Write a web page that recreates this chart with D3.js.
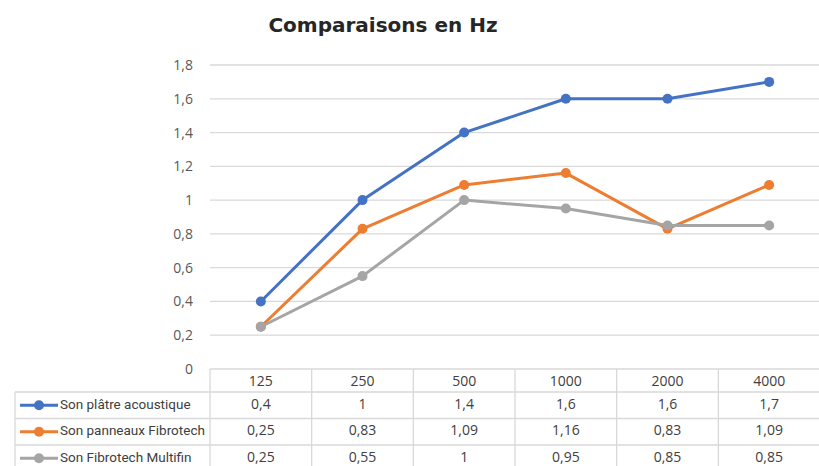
<!DOCTYPE html>
<html>
<head>
<meta charset="utf-8">
<script src="https://cdn.jsdelivr.net/npm/d3@7"></script>
<style>
  body { margin: 0; background: #fff; }
  svg text { font-family: "Open Sans", "DejaVu Sans", sans-serif; }
</style>
</head>
<body>
<div id="chart"></div>
<script>
const categories = ["125", "250", "500", "1000", "2000", "4000"];
const seriesNames = ["Son plâtre acoustique", "Son panneaux Fibrotech", "Son Fibrotech Multifin"];
const platre = [0.4, 1, 1.4, 1.6, 1.6, 1.7];
const panneaux = [0.25, 0.83, 1.09, 1.16, 0.83, 1.09];
const multifin = [0.25, 0.55, 1, 0.95, 0.85, 0.85];
const yTicks = [0, 0.2, 0.4, 0.6, 0.8, 1, 1.2, 1.4, 1.6, 1.8];
const colors = ["#4472c4", "#ed7d31", "#a5a5a5"];

const W = 819, H = 466;
const plotLeft = 210, plotRight = 820, plotTop = 65, plotBottom = 369;
const fr = d3.format(",.2~f");
const fmt = v => fr(v).replace(".", ",");

const series = seriesNames.map((name, i) => ({
  name, color: colors[i], values: [platre, panneaux, multifin][i]
}));

const svg = d3.select("#chart").append("svg")
  .attr("width", W).attr("height", H);

const x = d3.scaleBand().domain(categories).range([plotLeft, plotRight]);
const y = d3.scaleLinear().domain([0, 1.8]).range([plotBottom, plotTop]);

// title
svg.append("text")
  .attr("x", 383).attr("y", 32)
  .attr("text-anchor", "middle")
  .style("font-family", "'DejaVu Sans', Verdana, sans-serif")
  .style("font-weight", "bold")
  .style("font-size", "20px")
  .attr("fill", "#262626")
  .text("Comparaisons en Hz");

// gridlines + y labels
svg.append("g")
  .selectAll("line")
  .data(yTicks.filter(d => d > 0))
  .join("line")
  .attr("x1", plotLeft).attr("x2", W)
  .attr("y1", d => y(d)).attr("y2", d => y(d))
  .attr("stroke", "#d9d9d9").attr("stroke-width", 1.3);

svg.append("g")
  .selectAll("text")
  .data(yTicks)
  .join("text")
  .attr("x", 193)
  .attr("y", d => y(d) + 5)
  .attr("text-anchor", "end")
  .style("font-size", "14px")
  .attr("fill", "#595959")
  .text(d => fmt(d));

// lines + markers
const line = d3.line()
  .x((d, i) => x(categories[i]) + x.bandwidth() / 2)
  .y(d => y(d));

const sg = svg.append("g")
  .selectAll("g")
  .data(series)
  .join("g");

sg.append("path")
  .attr("d", d => line(d.values))
  .attr("fill", "none")
  .attr("stroke", d => d.color)
  .attr("stroke-width", 3)
  .attr("stroke-linejoin", "round");

sg.selectAll("circle")
  .data(d => d.values.map((v, i) => ({v, i, color: d.color})))
  .join("circle")
  .attr("cx", d => x(categories[d.i]) + x.bandwidth() / 2)
  .attr("cy", d => y(d.v))
  .attr("r", 5)
  .attr("fill", d => d.color);

// data table
const headerTop = plotBottom, headerH = 23, rowH = 26.5;
const tableLeft = 15;
const tbl = svg.append("g");
const gridColor = "#d9d9d9";

// horizontal lines
const rowLines = [headerTop, headerTop + headerH];
series.forEach((s, i) => rowLines.push(headerTop + headerH + rowH * (i + 1)));
tbl.selectAll("line.h")
  .data(rowLines)
  .join("line")
  .attr("x1", (d, i) => i === 0 ? plotLeft : tableLeft)
  .attr("x2", W)
  .attr("y1", d => d).attr("y2", d => d)
  .attr("stroke", gridColor).attr("stroke-width", 1.3);

// vertical lines
const colEdges = categories.map(c => x(c)).concat([plotRight]);
tbl.selectAll("line.v")
  .data(colEdges)
  .join("line")
  .attr("x1", d => d).attr("x2", d => d)
  .attr("y1", headerTop).attr("y2", H)
  .attr("stroke", gridColor).attr("stroke-width", 1.3);
tbl.append("line")
  .attr("x1", tableLeft).attr("x2", tableLeft)
  .attr("y1", headerTop + headerH).attr("y2", H)
  .attr("stroke", gridColor).attr("stroke-width", 1.3);

// header labels
tbl.selectAll("text.cat")
  .data(categories)
  .join("text")
  .attr("x", d => x(d) + x.bandwidth() / 2)
  .attr("y", headerTop + headerH / 2 + 5)
  .attr("text-anchor", "middle")
  .style("font-size", "14px")
  .attr("fill", "#404040")
  .text(d => d);

// rows
series.forEach((s, r) => {
  const cy = headerTop + headerH + rowH * r + rowH / 2;
  tbl.append("line")
    .attr("x1", 20).attr("x2", 58)
    .attr("y1", cy).attr("y2", cy)
    .attr("stroke", s.color).attr("stroke-width", 3);
  tbl.append("circle")
    .attr("cx", 39).attr("cy", cy).attr("r", 5)
    .attr("fill", s.color);
  tbl.append("text")
    .attr("x", 60).attr("y", cy + 3.5)
    .style("font-family", "'Liberation Sans Narrow', 'Roboto', sans-serif")
    .style("font-size", "13.5px")
    .attr("fill", "#404040")
    .text(s.name);
  tbl.selectAll(null)
    .data(s.values)
    .join("text")
    .attr("x", (d, i) => x(categories[i]) + x.bandwidth() / 2)
    .attr("y", cy + 3.5)
    .attr("text-anchor", "middle")
    .style("font-size", "14px")
    .attr("fill", "#404040")
    .text(d => fmt(d));
});
</script>
</body>
</html>
